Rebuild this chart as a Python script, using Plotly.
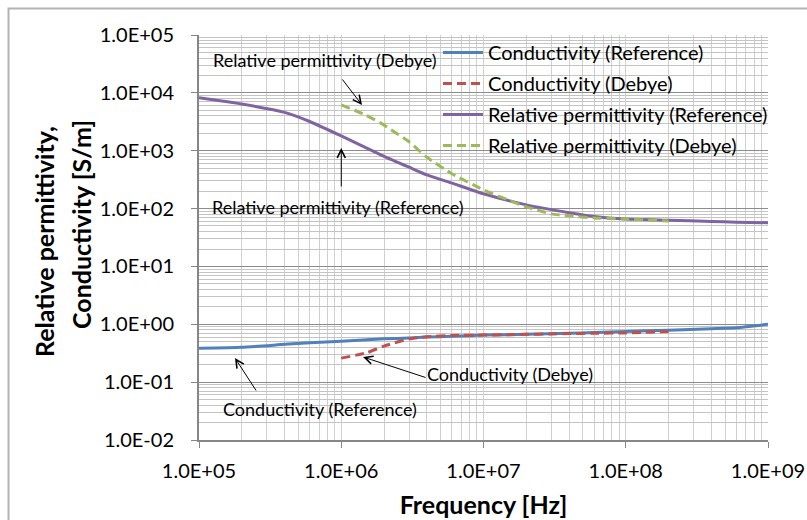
import plotly.graph_objects as go

# ---------------- data ----------------
freq_ref = [1e5, 2e5, 4e5, 6e5, 1e6, 2e6, 3e6, 4e6, 6e6, 1e7, 2e7, 4e7, 6e7,
            1e8, 2e8, 4e8, 6e8, 1e9]
perm_ref = [8200, 6400, 4600, 3200, 1800, 800, 518, 382, 275, 180, 116, 85, 73,
            66, 63, 60, 58, 57]
cond_ref = [0.385, 0.40, 0.45, 0.48, 0.51, 0.56, 0.58, 0.60, 0.62, 0.65, 0.67,
            0.70, 0.72, 0.75, 0.79, 0.84, 0.87, 1.0]

freq_debye = [1e6, 1.5e6, 2e6, 3e6, 4e6, 6e6, 1e7, 1.5e7, 2e7, 3e7, 4e7, 6e7,
              1e8, 2e8]
perm_debye = [6200, 4100, 2770, 1420, 770, 400, 210, 140, 107, 81, 75, 69,
              66, 61]
cond_debye = [0.26, 0.32, 0.42, 0.56, 0.61, 0.64, 0.65, 0.66, 0.67, 0.68, 0.69,
              0.70, 0.71, 0.75]

x_tickvals = [1e5, 1e6, 1e7, 1e8, 1e9]
x_ticktext = ["1.0E+05", "1.0E+06", "1.0E+07", "1.0E+08", "1.0E+09"]
y_tickvals = [1e-2, 1e-1, 1e0, 1e1, 1e2, 1e3, 1e4, 1e5]
y_ticktext = ["1.0E-02", "1.0E-01", "1.0E+00", "1.0E+01", "1.0E+02",
              "1.0E+03", "1.0E+04", "1.0E+05"]

series_names = ["Conductivity (Reference)", "Conductivity (Debye)",
                "Relative permittivity (Reference)", "Relative permittivity (Debye)"]

# ---------------- style ----------------
FONT = "Lato, 'Open Sans', sans-serif"
C_BLUE, C_RED, C_PURPLE, C_GREEN = "#4F81BD", "#C0504D", "#8064A2", "#9BBB59"
DASH = "9px,5px"
LW = 3

fig = go.Figure()
fig.add_trace(go.Scatter(x=freq_ref, y=cond_ref, name=series_names[0], mode="lines",
                         line=dict(color=C_BLUE, width=LW, shape="spline", smoothing=0.5),
                         legendgroup="a"))
fig.add_trace(go.Scatter(x=freq_debye, y=cond_debye, name=series_names[1], mode="lines",
                         line=dict(color=C_RED, width=LW, dash=DASH, shape="spline", smoothing=0.5),
                         legendgroup="b"))
fig.add_trace(go.Scatter(x=freq_ref, y=perm_ref, name=series_names[2], mode="lines",
                         line=dict(color=C_PURPLE, width=LW, shape="spline", smoothing=0.5),
                         legendgroup="c"))
fig.add_trace(go.Scatter(x=freq_debye, y=perm_debye, name=series_names[3], mode="lines",
                         line=dict(color=C_GREEN, width=LW, dash=DASH, shape="spline", smoothing=0.5),
                         legendgroup="d"))

# minor grid positions (2..9 within each decade)
x_minor = [m * 10 ** e for e in range(5, 9) for m in range(2, 10)]
y_minor = [m * 10 ** e for e in range(-2, 5) for m in range(2, 10)]

fig.update_xaxes(
    type="log", range=[5, 9],
    tickmode="array", tickvals=x_tickvals, ticktext=x_ticktext,
    ticks="outside", ticklen=6, tickcolor="#868686", tickwidth=1,
    ticklabelstandoff=6,
    showline=True, linecolor="#868686", linewidth=1.5,
    showgrid=True, gridcolor="#d0d0d0", gridwidth=1,
    minor=dict(tickmode="array", tickvals=x_minor, showgrid=True,
               gridcolor="#d0d0d0", gridwidth=1, ticks=""),
    tickfont=dict(family=FONT, size=20, color="#000"),
    title=dict(text="<b>Frequency [Hz]</b>", font=dict(family=FONT, size=25, color="#000"),
               standoff=16),
    zeroline=False, automargin=False,
)
fig.update_yaxes(
    type="log", range=[-2, 5],
    tickmode="array", tickvals=y_tickvals, ticktext=y_ticktext,
    ticks="outside", ticklen=6, tickcolor="#868686", tickwidth=1,
    ticklabelstandoff=13,
    showline=True, linecolor="#868686", linewidth=2,
    showgrid=True, gridcolor="#8c8c8c", gridwidth=1,
    minor=dict(tickmode="array", tickvals=y_minor, showgrid=True,
               gridcolor="#c4c4c4", gridwidth=1, ticks=""),
    tickfont=dict(family=FONT, size=20, color="#000"),
    zeroline=False, automargin=False,
)

# y-axis title as two rotated lines
annos = [
    dict(text="<b>Relative permittivity,</b>", xref="paper", yref="paper", x=0,
         y=(440 - 242) / 405, xshift=-155, textangle=-90, showarrow=False,
         xanchor="center", yanchor="middle",
         font=dict(family=FONT, size=25, color="#000")),
    dict(text="<b>Conductivity [S/m]</b>", xref="paper", yref="paper", x=0,
         y=(440 - 225) / 405, xshift=-118, textangle=-90, showarrow=False,
         xanchor="center", yanchor="middle",
         font=dict(family=FONT, size=25, color="#000")),
]

# labels (axis coordinates are log10 values on log axes)
labels = [
    ("Relative permittivity (Debye)", 5.886, 4.568),
    ("Relative permittivity (Reference)", 5.977, 2.027),
    ("Conductivity (Debye)", 7.186, -0.859),
    ("Conductivity (Reference)", 5.851, -1.464),
]
for t, lx, ly in labels:
    annos.append(dict(text=t, x=lx, y=ly, xref="x", yref="y", showarrow=False,
                      font=dict(family=FONT, size=18, color="#000")))

# arrows: (head x, head y, tail x, tail y) in log10 axis units
arrows = [
    (6.146, 3.79, 6.0, 4.257),
    (6.0, 3.047, 6.0, 2.356),
    (6.153, -0.565, 6.603, -0.928),
    (5.253, -0.582, 5.408, -1.17),
]
for hx, hy, tx, ty in arrows:
    annos.append(dict(text="", x=hx, y=hy, ax=tx, ay=ty, xref="x", yref="y",
                      axref="x", ayref="y", showarrow=True, arrowhead=5,
                      arrowsize=1.6, arrowwidth=1, arrowcolor="#000"))

fig.update_layout(
    width=807, height=520,
    margin=dict(l=199, r=39, t=35, b=80),
    paper_bgcolor="white", plot_bgcolor="white",
    showlegend=True,
    legend=dict(x=0.42, y=1.005, xanchor="left", yanchor="top",
                bgcolor="rgba(0,0,0,0)", font=dict(family=FONT, size=20, color="#000"),
                tracegroupgap=2, itemwidth=40),
    annotations=annos,
    shapes=[dict(type="rect", xref="paper", yref="paper",
                 x0=-190.5 / 569, y0=-0.40, x1=1.25, y1=1 + 26.5 / 405,
                 line=dict(color="#b3b3b3", width=2), fillcolor="rgba(0,0,0,0)",
                 layer="below")],
)

fig.write_html("out.html", config={"displayModeBar": False},
               post_script="document.body.style.margin='0px';")
